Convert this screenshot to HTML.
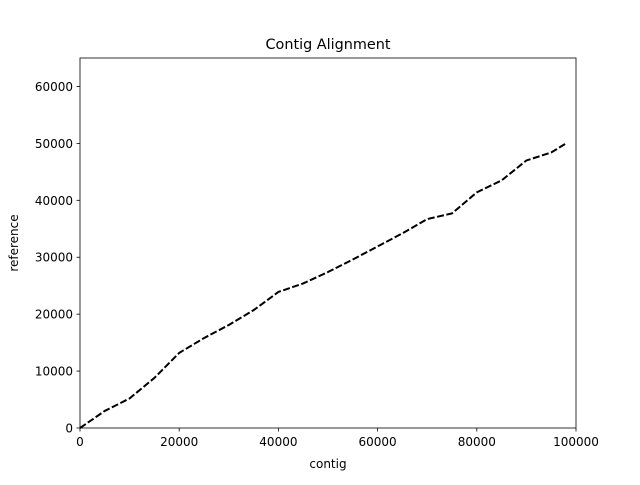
<!DOCTYPE html>
<html><head><meta charset="utf-8"><style>
body{margin:0;background:#fff}
svg{font-family:"DejaVu Sans","Liberation Sans",sans-serif}
</style></head><body>
<svg id="chart" width="640" height="480">
<rect width="640" height="480" fill="#fff"/>
<text x="328" y="49" text-anchor="middle" font-size="14.4">Contig Alignment</text>
<g id="plot"></g>
<rect x="80" y="58" width="496" height="370" fill="none" stroke="#000" stroke-width="0.8"/>
<g id="xt"></g>
<g id="yt"></g>
<text x="328" y="468" text-anchor="middle" font-size="12">contig</text>
<text transform="translate(18,243) rotate(-90)" text-anchor="middle" font-size="12">reference</text>
</svg>
<script>
const contigPos=[0,5000,10000,15000,20000,25000,30000,35000,40000,45000,50000,55000,60000,65000,70000,75000,80000,85000,90000,95000,98000];
const refPos=[0,3000,5200,8800,13200,15800,18100,20700,23900,25400,27400,29600,31900,34200,36700,37700,41400,43500,47000,48400,50000];
const xTicks=[0,20000,40000,60000,80000,100000];
const yTicks=[0,10000,20000,30000,40000,50000,60000];
const NS='http://www.w3.org/2000/svg';
const X=v=>80+v/100000*496, Y=v=>428-v/65000*370;
const plot=document.getElementById('plot');
const p=document.createElementNS(NS,'polyline');
p.setAttribute('points',contigPos.map((c,i)=>X(c)+','+Y(refPos[i])).join(' '));
p.setAttribute('fill','none');p.setAttribute('stroke','#000');p.setAttribute('stroke-width','2');
p.setAttribute('stroke-dasharray','7 2.5');


plot.appendChild(p);
const xt=document.getElementById('xt');
xTicks.forEach(t=>{
  const l=document.createElementNS(NS,'line');
  l.setAttribute('x1',X(t));l.setAttribute('x2',X(t));l.setAttribute('y1',428);l.setAttribute('y2',431.5);
  l.setAttribute('stroke','#000');l.setAttribute('stroke-width','0.8');
  
  
  xt.appendChild(l);
  const s=document.createElementNS(NS,'text');
  s.setAttribute('x',X(t));s.setAttribute('y',446);s.setAttribute('text-anchor','middle');s.setAttribute('font-size','12');
  s.textContent=t;
  
  
  xt.appendChild(s);
});
const yt=document.getElementById('yt');
yTicks.forEach(t=>{
  const l=document.createElementNS(NS,'line');
  l.setAttribute('x1',76.5);l.setAttribute('x2',80);l.setAttribute('y1',Y(t));l.setAttribute('y2',Y(t));
  l.setAttribute('stroke','#000');l.setAttribute('stroke-width','0.8');
  
  
  yt.appendChild(l);
  const s=document.createElementNS(NS,'text');
  s.setAttribute('x',73);s.setAttribute('y',Y(t)+4.5);s.setAttribute('text-anchor','end');s.setAttribute('font-size','12');
  s.textContent=t;
  
  
  yt.appendChild(s);
});
</script>
</body></html>
